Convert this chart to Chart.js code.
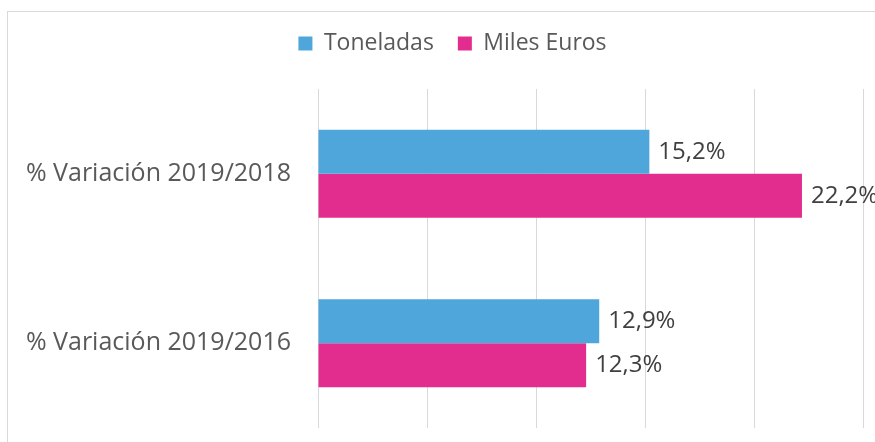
<!DOCTYPE html>
<html>
<head>
<meta charset="utf-8">
<script src="https://cdn.jsdelivr.net/npm/chart.js@4"></script>
<style>
    html, body { margin: 0; padding: 0; width: 875px; height: 442px; overflow: hidden; background: #fff; }
    .frame { position: absolute; left: 7px; top: 11px; width: 900px; height: 460px; border: 1px solid #d9d9d9; box-sizing: border-box; }
    canvas { position: absolute; left: 0; top: 0; }
</style>
</head>
<body>
<div class="frame"></div>
<canvas id="chart" width="875" height="442"></canvas>
<script>
// ── Data ───────────────────────────────────────────────────
const categories = ['% Variación 2019/2018', '% Variación 2019/2016'];
const toneladas  = [15.2, 12.9];
const milesEuros = [22.2, 12.3];
const seriesNames = ['Toneladas', 'Miles Euros'];

const FONT = "'Open Sans', 'Noto Sans', sans-serif";

// value labels at the end of each bar
const valueLabels = {
    id: 'valueLabels',
    afterDatasetsDraw(chart) {
        const ctx = chart.ctx;
        ctx.save();
        ctx.font = `24px ${FONT}`;
        ctx.fillStyle = '#404040';
        ctx.textBaseline = 'middle';
        chart.data.datasets.forEach((ds, di) => {
            chart.getDatasetMeta(di).data.forEach((bar, i) => {
                const txt = ds.data[i].toFixed(1).replace('.', ',') + '%';
                ctx.fillText(txt, bar.x + 9, bar.y);
            });
        });
        ctx.restore();
    }
};

// taller legend box so the plot starts lower, and nudge it right
const legendTweak = {
    id: 'legendTweak',
    beforeInit(chart) {
        const fit = chart.legend.fit;
        chart.legend.fit = function () {
            fit.call(this);
            this.height = 81;
        };
    },
    afterLayout(chart) {
        chart.legend.left += 21;
        chart.legend.right += 21;
    }
};

new Chart(document.getElementById('chart'), {
    type: 'bar',
    data: {
        labels: categories,
        datasets: [
            { label: seriesNames[0], data: toneladas,  backgroundColor: '#4FA6DB' },
            { label: seriesNames[1], data: milesEuros, backgroundColor: '#E22D8F' }
        ]
    },
    options: {
        indexAxis: 'y',
        responsive: false,
        animation: false,
        categoryPercentage: 0.52,
        barPercentage: 1,
        layout: { padding: { left: 0, right: 12, top: 8, bottom: 14 } },
        plugins: {
            legend: {
                position: 'top',
                labels: {
                    color: '#595959',
                    font: { family: FONT, size: 23 },
                    boxWidth: 14, boxHeight: 14,
                    padding: 24
                }
            },
            tooltip: { enabled: false }
        },
        scales: {
            x: {
                min: 0, max: 25,
                ticks: { display: false, stepSize: 5 },
                grid: { color: '#d9d9d9', lineWidth: 1, drawTicks: false },
                border: { display: false },
                afterFit(scale) { scale.height = 0; }
            },
            y: {
                ticks: { color: '#595959', font: { family: FONT, size: 25 }, padding: 27 },
                grid: { display: false, drawTicks: false },
                border: { display: false },
                afterFit(scale) {
                    scale.width = 318;
                    scale.paddingTop = 0;
                    scale.paddingBottom = 0;
                }
            }
        }
    },
    plugins: [valueLabels, legendTweak]
});
</script>
</body>
</html>
